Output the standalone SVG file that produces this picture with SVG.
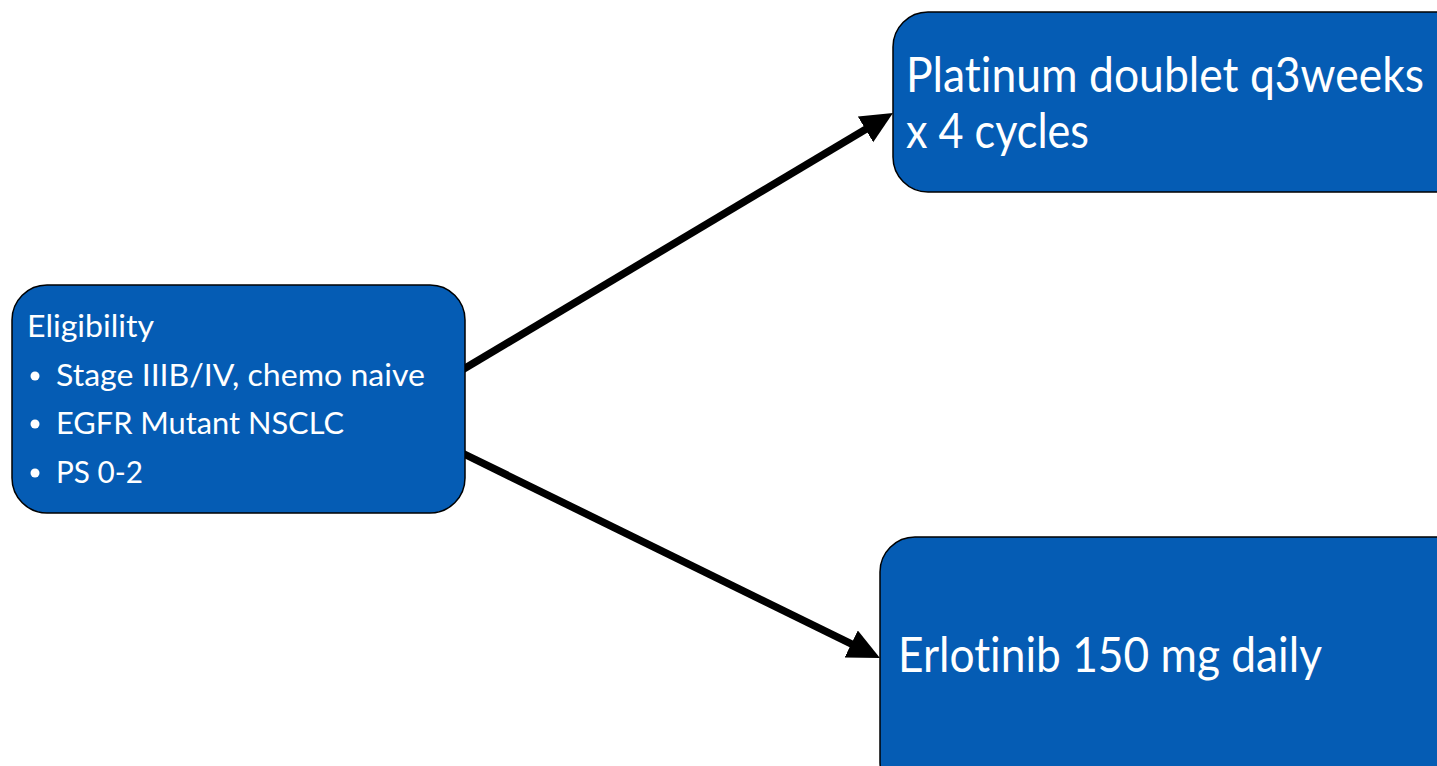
<svg xmlns="http://www.w3.org/2000/svg" width="1437" height="766" viewBox="0 0 1437 766">
<style>
.box{fill:#055cb4;stroke:#000;stroke-width:1.5}
.t{fill:#fff;font-family:Lato,"Open Sans","Liberation Sans",sans-serif;font-variant-ligatures:none;font-feature-settings:"liga" 0}
.s{font-size:30px}
.l{font-size:48px}
.conn{stroke:#000;stroke-width:7.5;fill:none}
</style>
<defs>
<marker id="ah" markerUnits="userSpaceOnUse" markerWidth="34" markerHeight="32" refX="12" refY="15" orient="auto">
<path d="M0,0 L32,15 L0,30 z" fill="#000"/>
</marker>
</defs>
<rect width="1437" height="766" fill="#fff"/>
<g id="connectors">
<line class="conn" x1="462" y1="370" x2="875.8" y2="123.2" marker-end="url(#ah)"/>
<line class="conn" x1="462" y1="453" x2="862" y2="649.2" marker-end="url(#ah)"/>
</g>
<g id="eligibility">
<rect class="box" x="12" y="285" width="453" height="228" rx="35" ry="35"/>
<text class="t s" x="27" y="337" textLength="127" lengthAdjust="spacingAndGlyphs">Eligibility</text>
<circle cx="35" cy="376" r="4.5" fill="#fff"/>
<circle cx="35" cy="424" r="4.5" fill="#fff"/>
<circle cx="35" cy="473" r="4.5" fill="#fff"/>
<text class="t s" x="56" y="386" textLength="369" lengthAdjust="spacingAndGlyphs">Stage IIIB/IV, chemo naive</text>
<text class="t s" x="56" y="434" textLength="288" lengthAdjust="spacingAndGlyphs">EGFR Mutant NSCLC</text>
<text class="t s" x="56" y="483" textLength="87" lengthAdjust="spacingAndGlyphs">PS 0-2</text>
</g>
<g id="platinum">
<rect class="box" x="893" y="12" width="580" height="180" rx="35" ry="35"/>
<text class="t l" x="906" y="92" textLength="518" lengthAdjust="spacingAndGlyphs">Platinum doublet q3weeks</text>
<text class="t l" x="906" y="148" textLength="183" lengthAdjust="spacingAndGlyphs">x 4 cycles</text>
</g>
<g id="erlotinib">
<rect class="box" x="880" y="537" width="600" height="260" rx="35" ry="35"/>
<text class="t l" x="898" y="672" textLength="424" lengthAdjust="spacingAndGlyphs">Erlotinib 150 mg daily</text>
</g>
</svg>
